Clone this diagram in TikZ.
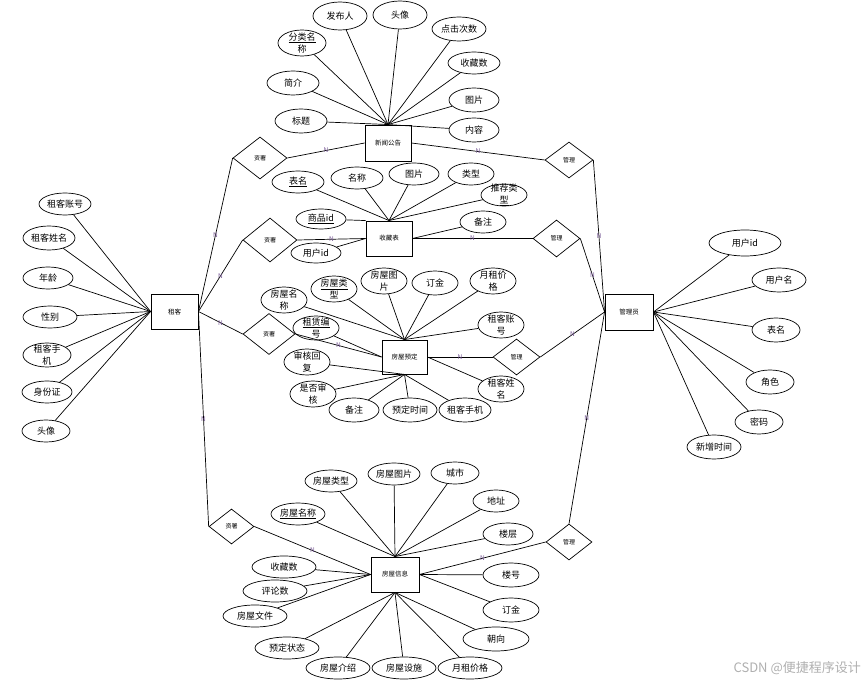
\documentclass[tikz,border=0pt]{standalone}
\usepackage{fontspec}
\setmainfont{Noto Sans CJK SC}
\usetikzlibrary{shapes.geometric}
\definecolor{ncol}{RGB}{120,90,150}
\definecolor{wm}{RGB}{175,175,175}
\tikzset{
 ent/.style={draw, line width=0.9pt, rectangle, inner sep=0pt, font=\fontsize{6.5}{7}\selectfont},
 rel/.style={draw, diamond, inner sep=0pt, line width=0.7pt, font=\fontsize{6}{7}\selectfont},
 attrshape/.style={draw, ellipse, inner sep=0pt, line width=0.7pt},
 attrtext/.style={font=\fontsize{9}{12}\selectfont, align=center, inner sep=0pt},
 conn/.style={line width=0.7pt},
 nlab/.style={font=\fontsize{6.5}{6.5}\selectfont, text=ncol, inner sep=0pt},
}
\newcommand\attr[6]{\node[attrshape, minimum width=#4pt, minimum height=#5pt] (#1) at (#2,#3) {};
 \node[attrtext] (#1t) at (#1) {#6};}
\begin{document}
\begin{tikzpicture}[x=1pt,y=-1pt]
\useasboundingbox (0,0) rectangle (865,684);
% entities
\node[ent, minimum width=46pt, minimum height=36pt] (news) at (388,143) {新闻公告};
\node[ent, minimum width=46pt, minimum height=35pt] (sc) at (389,238.5) {收藏表};
\node[ent, minimum width=45pt, minimum height=34pt] (yd) at (404.5,357) {房屋预定};
\node[ent, minimum width=48pt, minimum height=35pt] (fx) at (395,574.5) {房屋信息};
\node[ent, minimum width=47pt, minimum height=35pt] (zk) at (174.5,311.5) {租客};
\node[ent, minimum width=48pt, minimum height=36pt] (gly) at (629,312) {管理员};
% relationships
\node[rel, minimum width=54pt, minimum height=42pt] (d1) at (260,158) {资署};
\node[rel, minimum width=54pt, minimum height=44pt] (d2) at (270,240) {资署};
\node[rel, minimum width=52pt, minimum height=41pt] (d3) at (269,334) {资署};
\node[rel, minimum width=45pt, minimum height=35pt] (d4) at (231.5,526.5) {资署};
\node[rel, minimum width=48pt, minimum height=36pt] (m1) at (569,160) {管理};
\node[rel, minimum width=47pt, minimum height=37pt] (m2) at (556.5,238.5) {管理};
\node[rel, minimum width=47pt, minimum height=36pt] (m3) at (516.5,357) {管理};
\node[rel, minimum width=46pt, minimum height=36pt] (m4) at (569,542) {管理};
% relationship connectors
\draw[conn] (zk.east) -- node[nlab]{N} (d1.west);
\draw[conn] (zk.east) -- node[nlab]{N} (d2.west);
\draw[conn] (zk.east) -- node[nlab]{N} (d3.west);
\draw[conn] (zk.east) -- node[nlab]{N} (d4.west);
\draw[conn] (d1.east) -- node[nlab]{N} (news.west);
\draw[conn] (d2.east) -- node[nlab]{N} (sc.west);
\draw[conn] (d3.east) -- node[nlab]{N} (yd.west);
\draw[conn] (d4.east) -- node[nlab]{N} (fx.west);
\draw[conn] (news.east) -- node[nlab]{N} (m1.west);
\draw[conn] (sc.east) -- node[nlab]{N} (m2.west);
\draw[conn] (yd.east) -- node[nlab]{N} (m3.west);
\draw[conn] (fx.east) -- node[nlab]{N} (m4.west);
\draw[conn] (m1.east) -- node[nlab]{N} (gly.west);
\draw[conn] (m2.east) -- node[nlab]{N} (gly.west);
\draw[conn] (m3.east) -- node[nlab]{N} (gly.west);
\draw[conn] (m4.north) -- node[nlab]{N} (gly.west);
% news attributes
\attr{n1}{340}{16}{54}{28}{发布人}
\attr{n2}{400}{15}{54}{28}{头像}
\attr{n3}{459}{29}{54}{24}{点击次数}
\attr{n4}{474}{63}{52}{22}{收藏数}
\attr{n5}{474}{100}{50}{24}{图片}
\attr{n6}{474}{130}{50}{24}{内容}
\attr{n7}{302}{43}{48}{26}{\underline{分类名}\\称}
\attr{n8}{293}{83}{52}{24}{简介}
\attr{n9}{301}{121}{52}{24}{标题}
\foreach \a in {n1,n2,n3,n4,n5,n6,n7,n8,n9} \draw[conn] (\a) -- (news.north);
% sc attributes
\attr{s1}{298}{182}{52}{22}{\underline{表名}}
\attr{s2}{357}{178}{52}{22}{名称}
\attr{s3}{414}{174}{50}{22}{图片}
\attr{s4}{471}{174}{46}{22}{类型}
\attr{s5}{504}{195}{46}{22}{推荐类\\\underline{型}}
\attr{s6}{321}{219}{50}{20}{\underline{商品id}}
\attr{s7}{316}{253}{50}{20}{用户id}
\attr{s8}{483}{222}{46}{22}{备注}
\foreach \a in {s1,s2,s3,s4,s5} \draw[conn] (\a) -- (sc.north);
\draw[conn] (s6) -- (sc.north west);
\draw[conn] (s7) -- (sc.west);
\draw[conn] (s8) -- (sc.east);
% yd attributes
\attr{y1}{284}{300}{46}{26}{房屋名\\称}
\attr{y2}{334}{289}{46}{26}{\underline{房屋类}\\型}
\attr{y3}{384}{281}{46}{26}{房屋图\\片}
\attr{y4}{435}{283}{46}{24}{订金}
\attr{y5}{493}{281}{46}{26}{月租价\\格}
\attr{y6}{501}{325}{46}{26}{租客账\\号}
\attr{y7}{501}{389}{46}{26}{租客姓\\名}
\attr{y8}{316}{328}{46}{24}{\underline{租赁编}\\号}
\attr{y9}{307}{362}{46}{26}{审核回\\复}
\attr{y10}{313}{394}{46}{26}{是否审\\核}
\attr{y11}{354}{410}{50}{24}{备注}
\attr{y12}{410}{410}{54}{24}{预定时间}
\attr{y13}{465}{410}{52}{24}{租客手机}
\foreach \a in {y1,y2,y3,y4,y5,y6} \draw[conn] (\a) -- (yd.north);
\foreach \a in {y9,y10,y11,y12,y13} \draw[conn] (\a) -- (yd.south);
\draw[conn] (y8) -- (yd.west);
\draw[conn] (y7) -- (yd.east);
% fx attributes
\attr{f1}{331}{481}{52}{22}{房屋类型}
\attr{f2}{394}{474}{52}{22}{房屋图片}
\attr{f3}{455}{473}{48}{22}{城市}
\attr{f4}{496}{501}{46}{22}{地址}
\attr{f5}{508}{534}{50}{22}{楼层}
\attr{f6}{298}{514}{54}{22}{\underline{房屋名称}}
\attr{f7}{284}{567}{64}{22}{收藏数}
\attr{f8}{275}{591}{64}{22}{评论数}
\attr{f9}{255}{616}{64}{22}{房屋文件}
\attr{f10}{287}{648}{64}{22}{预定状态}
\attr{f11}{338}{668}{64}{22}{房屋介绍}
\attr{f12}{404}{668}{64}{22}{房屋设施}
\attr{f13}{470}{668}{64}{22}{月租价格}
\attr{f14}{511}{575}{56}{24}{楼号}
\attr{f15}{511}{610}{56}{24}{订金}
\attr{f16}{496}{639}{66}{24}{朝向}
\foreach \a in {f1,f2,f3,f4,f5,f6} \draw[conn] (\a) -- (fx.north);
\foreach \a in {f7,f8,f9} \draw[conn] (\a) -- (fx.west);
\foreach \a in {f10,f11,f12,f13,f16} \draw[conn] (\a) -- (fx.south);
\foreach \a in {f14,f15} \draw[conn] (\a) -- (fx.east);
% zk attributes
\attr{z1}{65}{204}{52}{22}{租客账号}
\attr{z2}{49}{238}{52}{24}{租客姓名}
\attr{z3}{48}{278}{50}{22}{年龄}
\attr{z4}{50}{317}{54}{22}{性别}
\attr{z5}{47}{355}{48}{24}{租客手\\机}
\attr{z6}{47}{392}{50}{22}{身份证}
\attr{z7}{46}{431}{48}{22}{头像}
\foreach \a in {z1,z2,z3,z4,z5,z6,z7} \draw[conn] (\a) -- (zk.west);
% gly attributes
\attr{g1}{745}{243}{72}{26}{用户id}
\attr{g2}{779}{280}{54}{24}{用户名}
\attr{g3}{776}{330}{48}{24}{表名}
\attr{g4}{770}{382}{48}{24}{角色}
\attr{g5}{759}{422}{48}{24}{密码}
\attr{g6}{714}{447}{54}{24}{新增时间}
\foreach \a in {g1,g2,g3,g4,g5,g6} \draw[conn] (\a) -- (gly.east);
% watermark
\node[text=wm, font=\fontsize{13}{13}\selectfont, anchor=east, inner sep=0pt] (wmk) at (861,668) {CSDN @便捷程序设计};
\end{tikzpicture}
\end{document}
